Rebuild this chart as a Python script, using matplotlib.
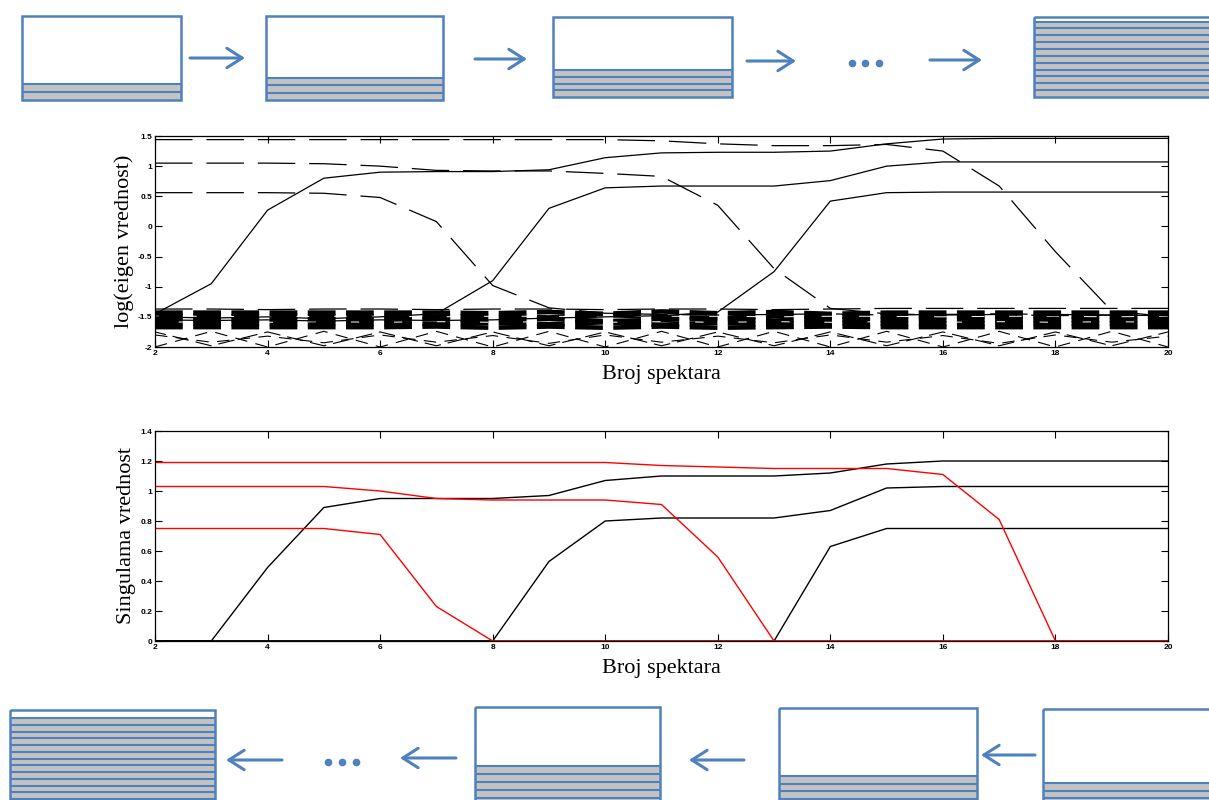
import matplotlib
matplotlib.use('Agg')
from matplotlib import pyplot as plt
from matplotlib.patches import Rectangle

plt.rcParams['lines.scale_dashes'] = False
plt.rcParams['axes.unicode_minus'] = False

# number of spectra on the x axis
broj = list(range(2, 21))
x_ticks = list(range(2, 21, 2))

# log eigenvalues, forward (solid)
fwd_1 = [-1.45, -0.95, 0.27, 0.80, 0.90, 0.91, 0.91, 0.94, 1.14, 1.22, 1.23, 1.23, 1.25, 1.37, 1.45, 1.46, 1.46, 1.46, 1.46]
fwd_2 = [-1.50, -1.52, -1.50, -1.53, -1.50, -1.45, -0.90, 0.30, 0.64, 0.67, 0.67, 0.67, 0.76, 1.00, 1.07, 1.07, 1.07, 1.07, 1.07]
fwd_3 = [-1.55, -1.56, -1.55, -1.57, -1.55, -1.56, -1.55, -1.52, -1.50, -1.48, -1.42, -0.75, 0.42, 0.56, 0.57, 0.57, 0.57, 0.57, 0.57]
# log eigenvalues, backward (dashed)
bwd_1 = [1.44, 1.44, 1.44, 1.44, 1.44, 1.44, 1.44, 1.44, 1.44, 1.42, 1.37, 1.34, 1.34, 1.36, 1.25, 0.67, -0.42, -1.40, -1.50]
bwd_2 = [1.05, 1.05, 1.05, 1.04, 1.00, 0.93, 0.92, 0.92, 0.88, 0.83, 0.35, -0.70, -1.36, -1.45, -1.47, -1.46, -1.48, -1.47, -1.48]
bwd_3 = [0.56, 0.56, 0.56, 0.55, 0.48, 0.08, -0.98, -1.35, -1.44, -1.46, -1.47, -1.46, -1.45, -1.47, -1.46, -1.45, -1.46, -1.47, -1.46]

# noise eigenvalues at the bottom of the log plot
nz_top = [-1.37, -1.37, -1.38, -1.37, -1.37, -1.38, -1.37, -1.37, -1.38, -1.37, -1.37, -1.38, -1.37, -1.36, -1.36, -1.36, -1.36, -1.36, -1.36]
blk_1 = [-1.43, -1.43, -1.43, -1.43, -1.43, -1.43, -1.44, -1.42, -1.45, -1.41, -1.44, -1.42, -1.45, -1.43, -1.43, -1.43, -1.43, -1.43, -1.43]
blk_2 = [-1.49, -1.49, -1.49, -1.49, -1.49, -1.50, -1.48, -1.51, -1.47, -1.50, -1.52, -1.48, -1.50, -1.49, -1.49, -1.49, -1.49, -1.49, -1.49]
blk_3 = [-1.55, -1.55, -1.55, -1.55, -1.55, -1.54, -1.56, -1.53, -1.57, -1.55, -1.53, -1.56, -1.54, -1.55, -1.55, -1.55, -1.55, -1.55, -1.55]
blk_4 = [-1.61, -1.61, -1.61, -1.61, -1.61, -1.62, -1.60, -1.62, -1.59, -1.63, -1.60, -1.62, -1.60, -1.61, -1.61, -1.61, -1.61, -1.61, -1.61]
blk_5 = [-1.67, -1.67, -1.67, -1.67, -1.67, -1.66, -1.68, -1.66, -1.68, -1.66, -1.68, -1.67, -1.66, -1.67, -1.67, -1.67, -1.67, -1.67, -1.67]
nz_s1 = [-1.49, -1.49, -1.50, -1.49, -1.49, -1.50, -1.49, -1.49, -1.50, -1.49, -1.49, -1.50, -1.49, -1.49, -1.50, -1.49, -1.49, -1.50, -1.49]
nz_s2 = [-1.59, -1.58, -1.59, -1.58, -1.59, -1.58, -1.59, -1.58, -1.59, -1.58, -1.59, -1.58, -1.59, -1.58, -1.59, -1.58, -1.59, -1.58, -1.59]
zig_a = [-2.00, -1.74, -2.00, -1.74, -2.00, -1.74, -2.00, -1.74, -2.00, -1.74, -2.00, -1.74, -2.00, -1.74, -2.00, -1.74, -2.00, -1.74, -2.00]
zig_b = [-1.75, -1.98, -1.75, -1.98, -1.75, -1.98, -1.75, -1.98, -1.75, -1.98, -1.75, -1.98, -1.75, -1.98, -1.75, -1.98, -1.75, -1.98, -1.75]
zig_c = [-1.80, -1.92, -1.82, -1.93, -1.80, -1.92, -1.81, -1.94, -1.80, -1.92, -1.82, -1.93, -1.80, -1.92, -1.81, -1.94, -1.80, -1.92, -1.82]

# singular values, forward (black) and backward (red)
sv_fwd_1 = [0.00, 0.00, 0.49, 0.89, 0.95, 0.95, 0.95, 0.97, 1.07, 1.10, 1.10, 1.10, 1.12, 1.18, 1.20, 1.20, 1.20, 1.20, 1.20]
sv_fwd_2 = [0.00, 0.00, 0.00, 0.00, 0.00, 0.00, 0.00, 0.53, 0.80, 0.82, 0.82, 0.82, 0.87, 1.02, 1.03, 1.03, 1.03, 1.03, 1.03]
sv_fwd_3 = [0.00, 0.00, 0.00, 0.00, 0.00, 0.00, 0.00, 0.00, 0.00, 0.00, 0.00, 0.00, 0.63, 0.75, 0.75, 0.75, 0.75, 0.75, 0.75]
sv_bwd_1 = [1.19, 1.19, 1.19, 1.19, 1.19, 1.19, 1.19, 1.19, 1.19, 1.17, 1.16, 1.15, 1.15, 1.15, 1.11, 0.81, 0.00, 0.00, 0.00]
sv_bwd_2 = [1.03, 1.03, 1.03, 1.03, 1.00, 0.95, 0.94, 0.94, 0.94, 0.91, 0.56, 0.00, 0.00, 0.00, 0.00, 0.00, 0.00, 0.00, 0.00]
sv_bwd_3 = [0.75, 0.75, 0.75, 0.75, 0.71, 0.23, 0.00, 0.00, 0.00, 0.00, 0.00, 0.00, 0.00, 0.00, 0.00, 0.00, 0.00, 0.00, 0.00]

log_ticks = [-2, -1.5, -1, -0.5, 0, 0.5, 1, 1.5]
log_labels = ['-2', '-1.5', '-1', '-0.5', '0', '0.5', '1', '1.5']
sv_ticks = [0, 0.2, 0.4, 0.6, 0.8, 1.0, 1.2, 1.4]
sv_labels = ['0', '0.2', '0.4', '0.6', '0.8', '1', '1.2', '1.4']

BLUE = '#4f81bd'
GRAY = '#c3c3c3'
SERIF = 'Liberation Serif'

fig = plt.figure(figsize=(12.09, 8), dpi=100)

# --- window diagrams (pixel coordinates) ---
bg = fig.add_axes([0, 0, 1, 1])
bg.set_xlim(0, 1209)
bg.set_ylim(800, 0)
bg.axis('off')


def window(x0, y0, x1, y1, ys, n):
    bg.add_patch(Rectangle((x0, ys), x1 - x0, y1 - ys, facecolor=GRAY, edgecolor='none'))
    step = (y1 - ys) / n
    for k in range(n):
        y = ys + k * step
        bg.plot([x0, x1], [y, y], color=BLUE, lw=1.5, solid_capstyle='butt')
    bg.add_patch(Rectangle((x0, y0), x1 - x0, y1 - y0, facecolor='none', edgecolor=BLUE, lw=1.8))


def arrow(xa, xb, y):
    bg.annotate('', xy=(xb, y), xytext=(xa, y),
                arrowprops=dict(arrowstyle='->,head_length=0.55,head_width=0.35',
                                color=BLUE, lw=2.2, mutation_scale=20, shrinkA=0, shrinkB=0))


# top row: window grows forward
window(22, 16, 181, 100, 84, 2)
window(266, 16, 443, 100, 78, 3)
window(553, 17, 732, 97, 70, 4)
window(1034, 17, 1215, 97, 21.5, 11)
arrow(190, 245, 58)
arrow(475, 527, 59)
arrow(747, 796, 61)
arrow(930, 982, 60)
bg.plot([852, 865, 879], [63, 63, 63], 'o', color=BLUE, ms=4.5)

# bottom row: window grows backward
window(10, 710, 215, 806, 718, 13)
window(475, 707, 660, 806, 766, 5)
window(779, 708, 977, 806, 776, 4)
window(1043, 709, 1215, 806, 783, 3)
arrow(282, 226, 760)
arrow(456, 400, 758)
arrow(744, 689, 760)
arrow(1035, 981, 755)
bg.plot([328, 342, 356], [762, 762, 762], 'o', color=BLUE, ms=4.5)


def style(ax, ticks, labels, lim, ylabel):
    ax.set_xlim(2, 20)
    ax.set_ylim(*lim)
    ax.set_xticks(x_ticks)
    ax.set_xticklabels([str(t) for t in x_ticks])
    ax.set_yticks(ticks)
    ax.set_yticklabels(labels)
    ax.tick_params(direction='in', length=5, width=0.8, top=True, right=True, pad=2)
    for lab in ax.get_xticklabels() + ax.get_yticklabels():
        lab.set_fontsize(6)
        lab.set_fontweight('bold')
        lab.set_family('Liberation Sans')
    for s in ax.spines.values():
        s.set_linewidth(0.9)
    ax.set_xlabel('Broj spektara', family=SERIF, fontsize=16, labelpad=6)
    ax.set_ylabel(ylabel, family=SERIF, fontsize=16, labelpad=3)


# --- log eigenvalue plot ---
ax1 = fig.add_axes([155 / 1209, 1 - 347 / 800, 1013 / 1209, 211 / 800])
thin_dash = (0, (27, 10))
ax1.plot(broj, nz_top, color='k', lw=0.9, linestyle=thin_dash)
for s in (blk_1, blk_2, blk_3, blk_4, blk_5):
    ax1.plot(broj, s, color='k', lw=3.3, linestyle=(0, (20, 7.5)), solid_capstyle='butt', dash_capstyle='butt')
ax1.plot(broj, nz_s1, color='w', lw=0.7, linestyle=(6, (9, 18)))
ax1.plot(broj, nz_s2, color='w', lw=0.7, linestyle=(14, (6, 25)))
for s in (zig_a, zig_c):
    ax1.plot(broj, s, color='k', lw=0.8, linestyle=(0, (9, 6)))
ax1.plot(broj, zig_b, color='k', lw=0.8, linestyle=(4, (12, 5)))
for s in (fwd_1, fwd_2, fwd_3):
    ax1.plot(broj, s, color='k', lw=0.9)
for s in (bwd_1, bwd_2, bwd_3):
    ax1.plot(broj, s, color='k', lw=0.9, linestyle=thin_dash)
style(ax1, log_ticks, log_labels, (-2, 1.5), 'log(eigen vrednost)')

# --- singular value plot ---
ax2 = fig.add_axes([155 / 1209, 1 - 641 / 800, 1013 / 1209, 210 / 800])
for s in (sv_fwd_1, sv_fwd_2, sv_fwd_3):
    ax2.plot(broj, s, color='k', lw=1.0)
for s in (sv_bwd_1, sv_bwd_2, sv_bwd_3):
    ax2.plot(broj, s, color='r', lw=1.0)
style(ax2, sv_ticks, sv_labels, (0, 1.4), 'Singulama vrednost')

fig.savefig('out.png', dpi=100)
